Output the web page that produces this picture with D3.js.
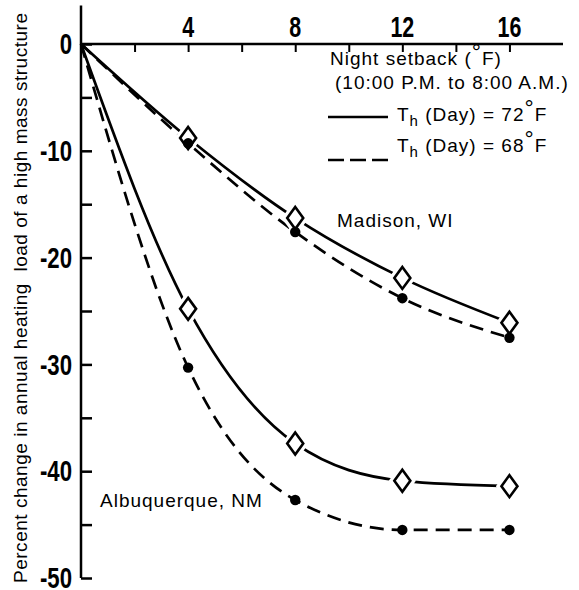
<!DOCTYPE html>
<html>
<head>
<meta charset="utf-8">
<script src="https://cdn.jsdelivr.net/npm/d3@7"></script>
<style>
  body { margin: 0; background: #fff; }
  svg { display: block; }
</style>
</head>
<body>
<div class="chart"></div>
<script>
// chart size
const svgWidth = 579;
const svgHeight = 590;

// data
const setback = [0, 4, 8, 12, 16];
const madison72 = [0, -8.8, -16.3, -21.9, -26.1];
const madison68 = [0, -9.3, -17.6, -23.8, -27.5];
const albuq72 = [0, -24.8, -37.4, -40.9, -41.4];
const albuq68 = [0, -30.3, -42.7, -45.5, -45.5];
const xTicks = [2, 4, 6, 8, 10, 12, 14, 16];
const xTickLabels = [4, 8, 12, 16];
const yTicks = [0, -5, -10, -15, -20, -25, -30, -35, -40, -45, -50];
const yTickLabels = [0, -10, -20, -30, -40, -50];

const svg = d3.select(".chart")
  .append("svg")
  .attr("width", svgWidth)
  .attr("height", svgHeight);

// scales
const xScale = d3.scaleLinear().domain([0, 18]).range([81, 563]);
const yScale = d3.scaleLinear().domain([0, -50]).range([44, 578]);

const ink = "#000";
const labelFont = "'Liberation Sans', Arial, sans-serif";
const textFont = "'Liberation Sans', Arial, sans-serif";
const squeeze = 0.74; // condensed look of the tick numerals

// axes lines
svg.append("line")
  .attr("x1", xScale(0)).attr("x2", xScale(18))
  .attr("y1", yScale(0)).attr("y2", yScale(0))
  .attr("stroke", ink).attr("stroke-width", 2.5);

svg.append("line")
  .attr("x1", xScale(0)).attr("x2", xScale(0))
  .attr("y1", yScale(3.6)).attr("y2", yScale(-50))
  .attr("stroke", ink).attr("stroke-width", 2.5);

// x ticks (pointing down into the plot)
const xAxis = d3.axisBottom(xScale)
  .tickValues(xTicks)
  .tickSize(8)
  .tickSizeOuter(0)
  .tickFormat("");
const xg = svg.append("g")
  .attr("transform", `translate(0, ${yScale(0)})`)
  .call(xAxis);
xg.select(".domain").remove();
xg.selectAll(".tick line").attr("stroke", ink).attr("stroke-width", 2);

svg.selectAll(".xlab")
  .data(xTickLabels)
  .enter()
  .append("text")
  .attr("class", "xlab")
  .attr("transform", d => `translate(${xScale(d)}, ${yScale(0) - 7}) scale(${squeeze}, 1)`)
  .attr("text-anchor", "middle")
  .attr("font-family", labelFont)
  .attr("font-weight", "bold")
  .attr("font-size", 29)
  .text(d => d);

// y ticks (pointing right into the plot)
const yAxis = d3.axisRight(yScale)
  .tickValues(yTicks)
  .tickSize(11)
  .tickSizeOuter(0)
  .tickFormat("");
const yg = svg.append("g")
  .attr("transform", `translate(${xScale(0)}, 0)`)
  .call(yAxis);
yg.select(".domain").remove();
yg.selectAll(".tick line").attr("stroke", ink).attr("stroke-width", 2.5);

svg.selectAll(".ylab")
  .data(yTickLabels)
  .enter()
  .append("text")
  .attr("class", "ylab")
  .attr("transform", d => `translate(${xScale(0) - 9}, ${yScale(d)}) scale(${squeeze}, 1)`)
  .attr("dy", "0.34em")
  .attr("text-anchor", "end")
  .attr("font-family", labelFont)
  .attr("font-weight", "bold")
  .attr("font-size", 30)
  .text(d => d === 0 ? "0" : "-" + Math.abs(d));

// y axis title
svg.append("text")
  .attr("transform", "translate(27, 583) rotate(-90)")
  .attr("font-family", textFont)
  .attr("font-size", 19)
  .attr("textLength", 570)
  .attr("lengthAdjust", "spacing")
  .attr("xml:space", "preserve")
  .style("white-space", "pre")
  .text("Percent change in annual heating  load of a high mass structure");

// curves
const line = d3.line()
  .x((d, i) => xScale(setback[i]))
  .y(d => yScale(d))
  .curve(d3.curveMonotoneX);

const series = [
  { values: madison72, dash: null, marker: "diamond" },
  { values: madison68, dash: "14,8", marker: "dot" },
  { values: albuq72, dash: null, marker: "diamond" },
  { values: albuq68, dash: "14,8", marker: "dot" }
];

series.forEach(s => {
  svg.append("path")
    .attr("d", line(s.values))
    .attr("fill", "none")
    .attr("stroke", ink)
    .attr("stroke-width", 2.7)
    .attr("stroke-dasharray", s.dash);
});

// diamonds (72°F), with a white halo so the line breaks around them
const diamond = "M0,-11L8,0L0,11L-8,0Z";
series.filter(s => s.marker === "diamond").forEach(s => {
  const pts = s.values.slice(1);
  const g = svg.append("g");
  g.selectAll(".halo")
    .data(pts)
    .enter()
    .append("path")
    .attr("d", diamond)
    .attr("transform", (d, i) => `translate(${xScale(setback[i + 1])}, ${yScale(d)})`)
    .attr("fill", "#fff")
    .attr("stroke", "#fff")
    .attr("stroke-width", 9);
  g.selectAll(".mk")
    .data(pts)
    .enter()
    .append("path")
    .attr("d", diamond)
    .attr("transform", (d, i) => `translate(${xScale(setback[i + 1])}, ${yScale(d)})`)
    .attr("fill", "#fff")
    .attr("stroke", ink)
    .attr("stroke-width", 2.6)
    .attr("stroke-linejoin", "miter");
});

// dots (68°F)
series.filter(s => s.marker === "dot").forEach(s => {
  svg.append("g").selectAll("circle")
    .data(s.values.slice(1))
    .enter()
    .append("circle")
    .attr("cx", (d, i) => xScale(setback[i + 1]))
    .attr("cy", d => yScale(d))
    .attr("r", 5.2)
    .attr("fill", ink);
});

// legend and labels
const txt = (x, y) => svg.append("text")
  .attr("x", x).attr("y", y)
  .attr("font-family", textFont)
  .attr("font-size", 19)
  .attr("letter-spacing", 1)
  .attr("fill", ink);

const t1 = txt(330, 65).text("Night setback (");
t1.append("tspan").attr("dy", -5).attr("font-size", 23).text("°");
t1.append("tspan").attr("dy", 5).text("F)");
txt(335, 89).text("(10:00 P.M. to 8:00 A.M.)");

const legendItems = [
  { temp: "72", dash: null, y: 117, ty: 121 },
  { temp: "68", dash: "16,6", y: 160, ty: 152 }
];
legendItems.forEach(d => {
  svg.append("line")
    .attr("x1", 328).attr("x2", 388)
    .attr("y1", d.y).attr("y2", d.y)
    .attr("stroke", ink)
    .attr("stroke-width", 2.6)
    .attr("stroke-dasharray", d.dash);
  const t = txt(397, d.ty).text("T");
  t.append("tspan").attr("dy", 5).attr("font-size", 15).text("h");
  t.append("tspan").attr("dy", -5).text(` (Day) = ${d.temp}`);
  t.append("tspan").attr("dy", -5).attr("font-size", 23).text("°");
  t.append("tspan").attr("dy", 5).text("F");
});

txt(337, 227).text("Madison, WI");
txt(100, 507).text("Albuquerque, NM");
</script>
</body>
</html>
